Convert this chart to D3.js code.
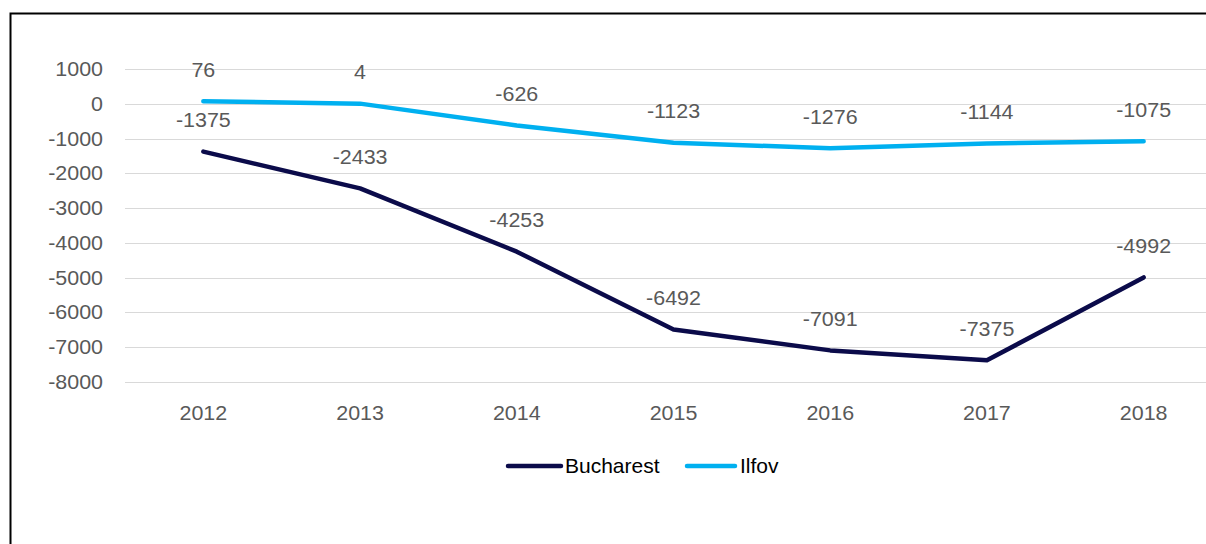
<!DOCTYPE html>
<html>
<head>
<meta charset="utf-8">
<script src="https://cdn.jsdelivr.net/npm/d3@7"></script>
<style>
  html, body { margin: 0; padding: 0; background: #fff; }
  svg { display: block; }
</style>
</head>
<body>
<svg id="chart" width="1206" height="544"></svg>
<script>
const years = ["2012", "2013", "2014", "2015", "2016", "2017", "2018"];
const bucharest = [-1375, -2433, -4253, -6492, -7091, -7375, -4992];
const ilfov = [76, 4, -626, -1123, -1276, -1144, -1075];
const yTicks = [1000, 0, -1000, -2000, -3000, -4000, -5000, -6000, -7000, -8000];
const seriesNames = ["Bucharest", "Ilfov"];
const seriesColors = ["#0b0b4a", "#00b0f0"];

const svg = d3.select("#chart");
const font = "'Liberation Sans', Arial, sans-serif";
const sx = 1.1;
const fs = 19.5;

// frame
svg.append("path").attr("d", "M10.5,600 L10.5,13.5 L1300,13.5")
  .attr("fill", "none").attr("stroke", "#000").attr("stroke-width", 2);

const plotLeft = 125, plotRight = 1222;
const x = d3.scalePoint().domain(years).range([plotLeft, plotRight]).padding(0.5);
const y = d3.scaleLinear().domain([-8000, 1000]).range([382, 69]);

// gridlines
svg.append("g").selectAll("line").data(yTicks).join("line")
  .attr("x1", plotLeft).attr("x2", plotRight)
  .attr("y1", d => Math.round(y(d)) + 0.5).attr("y2", d => Math.round(y(d)) + 0.5)
  .attr("stroke", "#d9d9d9").attr("stroke-width", 1);

// y tick labels
svg.append("g").selectAll("text").data(yTicks).join("text")
  .attr("transform", d => `translate(103,${y(d) + 7}) scale(${sx},1)`)
  .attr("text-anchor", "end")
  .attr("font-family", font).attr("font-size", fs).attr("fill", "#595959")
  .text(d => d);

// x labels
svg.append("g").selectAll("text").data(years).join("text")
  .attr("transform", d => `translate(${x(d)},420) scale(${sx},1)`)
  .attr("text-anchor", "middle")
  .attr("font-family", font).attr("font-size", fs).attr("fill", "#595959")
  .text(d => d);

const seriesData = [bucharest, ilfov];
const line = d3.line().x((d, i) => x(years[i])).y(d => y(d));

seriesData.forEach((vals, si) => {
  svg.append("path").datum(vals)
    .attr("d", line)
    .attr("fill", "none")
    .attr("stroke", seriesColors[si])
    .attr("stroke-width", 4.5)
    .attr("stroke-linejoin", "round")
    .attr("stroke-linecap", "round");
});

// data labels
seriesData.forEach((vals, si) => {
  svg.append("g").selectAll("text").data(vals).join("text")
    .attr("transform", (d, i) => `translate(${x(years[i])},${y(d) - 24.5}) scale(${sx},1)`)
    .attr("text-anchor", "middle")
    .attr("font-family", font).attr("font-size", fs).attr("fill", "#595959")
    .text(d => d);
});

// legend
const legendItems = [
  { name: seriesNames[0], color: seriesColors[0], x1: 508, x2: 561, tx: 565 },
  { name: seriesNames[1], color: seriesColors[1], x1: 687, x2: 735, tx: 740 }
];
const lg = svg.append("g");
legendItems.forEach(it => {
  lg.append("line").attr("x1", it.x1).attr("x2", it.x2).attr("y1", 466).attr("y2", 466)
    .attr("stroke", it.color).attr("stroke-width", 4.5).attr("stroke-linecap", "round");
  lg.append("text").attr("x", it.tx).attr("y", 473)
    .attr("font-family", font).attr("font-size", 21).attr("fill", "#000")
    .text(it.name);
});
</script>
</body>
</html>
